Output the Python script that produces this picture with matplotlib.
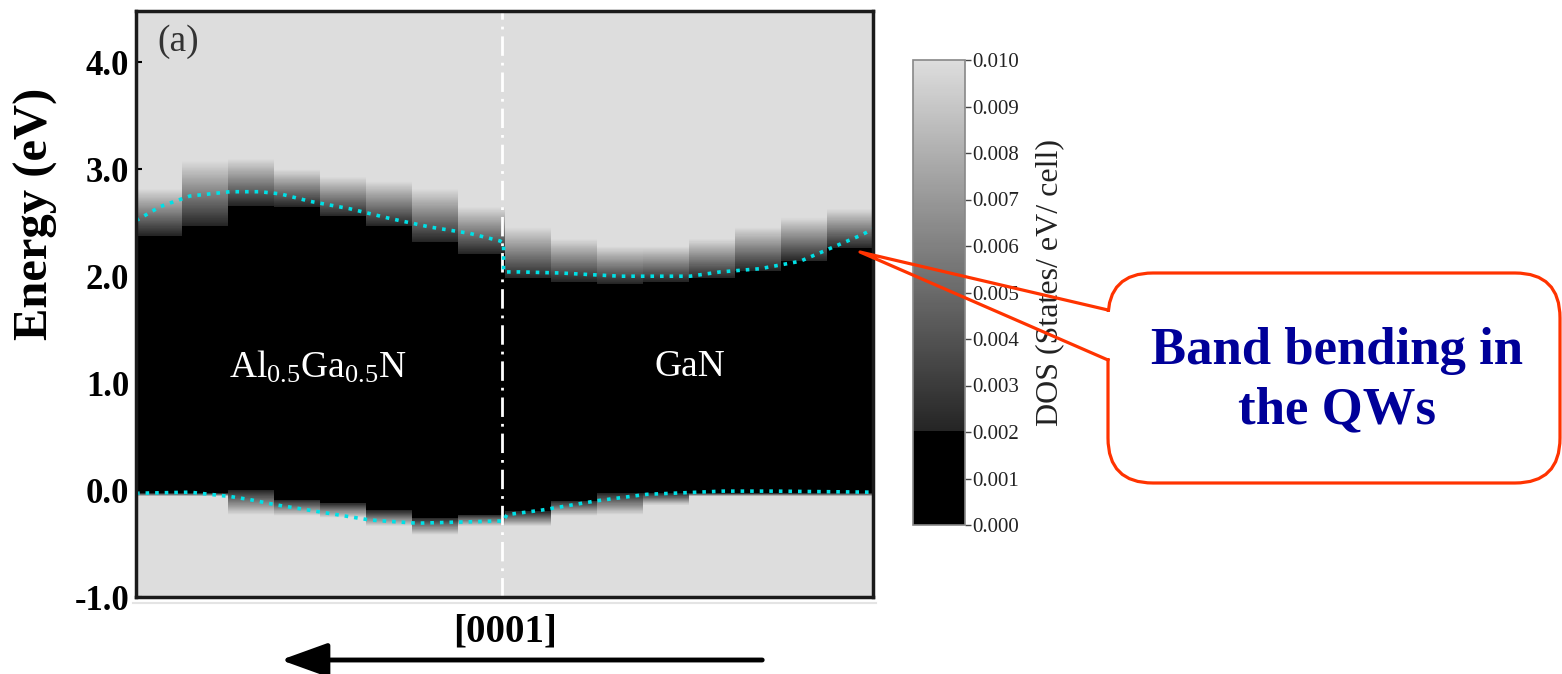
import numpy as np
import matplotlib.pyplot as plt
from matplotlib.colors import LinearSegmentedColormap
from matplotlib.patches import FancyBboxPatch, FancyArrowPatch

plt.rcParams['font.family'] = ['Liberation Serif', 'DejaVu Serif']
plt.rcParams['mathtext.fontset'] = 'custom'
plt.rcParams['mathtext.rm'] = 'Liberation Serif'
plt.rcParams['mathtext.it'] = 'Liberation Serif:italic'

# 16 layer columns along [0001], AlGaN on the left, GaN on the right
n_layers = 16
interface_x = 7.95

# per-column band edges (eV)
# conduction band: DOS starts at cb_lo and is saturated at cb_hi
cb_lo = [2.38, 2.47, 2.66, 2.65, 2.56, 2.47, 2.32, 2.21,
         1.98, 1.95, 1.93, 1.95, 1.98, 2.05, 2.14, 2.26]
cb_hi = [2.82, 3.08, 3.10, 3.00, 2.93, 2.89, 2.82, 2.65,
         2.46, 2.35, 2.28, 2.28, 2.35, 2.46, 2.55, 2.63]
# valence band: DOS starts at vb_hi and is saturated at vb_lo
vb_hi = [-0.03, -0.03, 0.00, -0.09, -0.12, -0.19, -0.26, -0.23,
         -0.20, -0.10, -0.03, -0.03, -0.03, -0.03, -0.03, -0.03]
vb_lo = [-0.06, -0.06, -0.23, -0.24, -0.26, -0.34, -0.42, -0.34,
         -0.34, -0.24, -0.23, -0.14, -0.06, -0.06, -0.06, -0.06]

# dotted band-edge guides
cb_line_x = [0.0, 0.52, 1.17, 2.04, 2.69, 3.13, 3.78, 4.65, 5.51, 6.38, 7.25, 7.90,
             7.98, 7.98, 8.34, 9.21, 10.51, 12.03, 12.68, 13.55, 14.42, 15.07, 15.72, 16.0]
cb_line_e = [2.52, 2.65, 2.75, 2.79, 2.79, 2.77, 2.70, 2.63, 2.54, 2.46, 2.40, 2.33,
             2.31, 2.04, 2.04, 2.03, 2.00, 2.00, 2.04, 2.07, 2.14, 2.26, 2.38, 2.44]
vb_line_x = [0.0, 1.17, 2.04, 2.48, 3.06, 3.93, 5.08, 6.10, 7.84, 7.98,
             8.05, 8.77, 10.01, 11.09, 12.74, 13.83, 16.0]
vb_line_e = [-0.03, -0.02, -0.06, -0.09, -0.14, -0.20, -0.28, -0.31, -0.29, -0.29,
             -0.23, -0.19, -0.10, -0.04, -0.01, -0.01, -0.02]

e_ticks = [-1.0, 0.0, 1.0, 2.0, 3.0, 4.0]
dos_ticks = [0.000, 0.001, 0.002, 0.003, 0.004, 0.005,
             0.006, 0.007, 0.008, 0.009, 0.010]

# build the DOS map from the edges
e_edges = np.linspace(-1.0, 4.5, 1101)
e_mid = (e_edges[:-1] + e_edges[1:]) / 2
dos = np.zeros((len(e_mid), n_layers))
for j in range(n_layers):
    t_c = np.clip((e_mid - cb_lo[j]) / (cb_hi[j] - cb_lo[j]), 0, 1)
    t_v = np.clip((vb_hi[j] - e_mid) / (vb_hi[j] - vb_lo[j]), 0, 1)
    col = np.where(e_mid > cb_lo[j], 0.002 + 0.008 * t_c, 0.0)
    col = np.where(e_mid < vb_hi[j], 0.002 + 0.008 * t_v, col)
    dos[:, j] = col

cmap = LinearSegmentedColormap.from_list(
    'dos', [(0.0, '#000000'), (0.2, '#000000'), (0.2, '#242424'), (1.0, '#dddddd')])

W, H = 1562, 674
fig = plt.figure(figsize=(W / 100, H / 100), dpi=100)

ax = fig.add_axes([136 / W, 1 - 597 / H, (873 - 136) / W, (597 - 11) / H])
mesh = ax.pcolormesh(np.arange(n_layers + 1), e_edges, dos, cmap=cmap,
                     vmin=0, vmax=0.01, shading='flat')
ax.set_xlim(0, n_layers)
ax.set_ylim(-1.0, 4.48)
ax.set_xticks([])
ax.set_yticks(e_ticks)
ax.set_yticklabels([f'{v:.1f}' for v in e_ticks], fontsize=25, fontweight='bold')
ax.tick_params(axis='y', direction='in', length=4, width=1.5, pad=5)
for s in ax.spines.values():
    s.set_linewidth(2.5)
    s.set_color('#1a1a1a')

ax.axvline(interface_x, color='white', lw=2, linestyle=(0, (7, 2.5, 1, 2.5)))
ax.plot(cb_line_x, cb_line_e, color='#00e0e6', lw=2.6, linestyle=':')
ax.plot(vb_line_x, vb_line_e, color='#00e0e6', lw=2.6, linestyle=':')

ax.set_ylabel('Energy (eV)', fontsize=35, fontweight='bold', va='center')
ax.yaxis.set_label_coords(-0.136, 0.654)

ax.text(0.91, 4.19, '(a)', fontsize=27, color='#333333', ha='center', va='center')
ax.text(3.95, 1.15, r'Al$_{0.5}$Ga$_{0.5}$N', fontsize=27, color='white',
        ha='center', va='center')
ax.text(12.03, 1.15, 'GaN', fontsize=27, color='white', ha='center', va='center')

# colour bar
cax = fig.add_axes([913 / W, 1 - 525 / H, 52 / W, 465 / H])
cb = fig.colorbar(mesh, cax=cax, ticks=dos_ticks)
cb.ax.set_yticklabels([f'{v:.3f}' for v in dos_ticks], fontsize=15, color='#222222')
cb.ax.tick_params(direction='out', length=4, width=1, pad=1, color='#444444')
cb.outline.set_edgecolor('#888888')
cb.outline.set_linewidth(1.2)
cb.ax.set_ylabel('DOS (States/ eV/ cell)', fontsize=23, color='#222222', va='center')
cb.ax.yaxis.set_label_coords((1050 - 913) / 52, (525 - 283) / 465)

# overlay in pixel coordinates for the annotations
ov = fig.add_axes([0, 0, 1, 1], zorder=10)
ov.set_xlim(0, W)
ov.set_ylim(H, 0)
ov.axis('off')
ov.patch.set_alpha(0)

ov.plot([133, 876], [603, 603], color='#e4e4e4', lw=1.5)
ov.text(505, 632, '[0001]', fontsize=28, fontweight='bold', ha='center', va='center')
ov.add_patch(FancyArrowPatch((765, 660), (278, 660),
                             arrowstyle='-|>,head_length=1.8,head_width=0.65',
                             mutation_scale=16, lw=3.5, color='black'))

box = FancyBboxPatch((1108, 273), 452, 210, boxstyle='round,pad=0,rounding_size=45',
                     facecolor='white', edgecolor='#ff3300', lw=2.3)
ov.add_patch(box)
ov.plot([1108, 1108], [312, 358], color='white', lw=4, solid_capstyle='butt')
ov.plot([1108, 860, 1108], [310, 252, 360], color='#ff3300', lw=2.3)
ov.text(1337, 381, 'Band bending in\nthe QWs', fontsize=38, fontweight='bold',
        color='#000099', ha='center', va='center', linespacing=1.3)

fig.savefig('out.png', dpi=100)
